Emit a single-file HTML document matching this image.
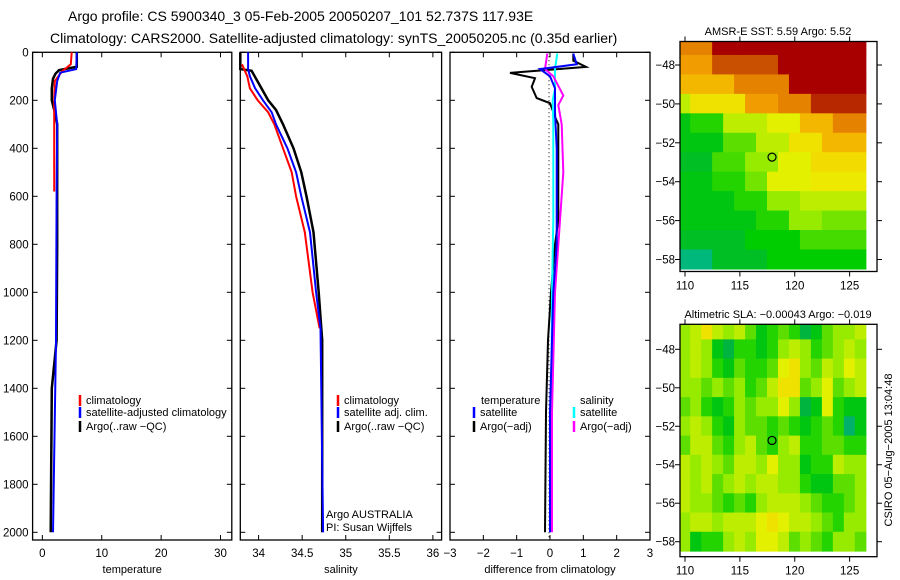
<!DOCTYPE html>
<html><head><meta charset="utf-8">
<style>
body{margin:0;background:#fff;}
svg{display:block;font-family:"Liberation Sans",sans-serif;}
text{fill:#000;}
</style></head>
<body>
<svg id="c" width="900" height="580" viewBox="0 0 900 580">
<text x="68" y="21" font-size="14">Argo profile: CS 5900340_3 05-Feb-2005 20050207_101 52.737S 117.93E</text>
<text x="50" y="43" font-size="14">Climatology: CARS2000. Satellite-adjusted climatology: synTS_20050205.nc (0.35d earlier)</text>
<text x="778" y="35" font-size="11" text-anchor="middle">AMSR-E SST: 5.59 Argo: 5.52</text>
<text x="778" y="318" font-size="11" text-anchor="middle">Altimetric SLA: −0.00043 Argo: −0.019</text>
<text transform="translate(892,450) rotate(-90)" font-size="11" text-anchor="middle">CSIRO 05−Aug−2005 13:04:48</text>
</svg>
<script>
// ---------- data ----------
const depthTicks = [0,200,400,600,800,1000,1200,1400,1600,1800,2000];
const tempTicks = [0,10,20,30];
const salTicks = [34,34.5,35,35.5,36];
const salTickLabels = ["34","34.5","35","35.5","36"];
const diffTicks = [-3,-2,-1,0,1,2,3];
const diffTickLabels = ["−3","−2","−1","0","1","2","3"];

const argoTempDepth = [0,60,74,90,110,150,200,250,300,800,1200,1400,2000];
const argoTemp      = [5.8,5.8,2.8,2.2,1.8,1.6,1.6,2.1,2.5,2.5,2.4,1.6,1.4];
const climTempDepth = [0,50,80,120,200,580];
const climTemp      = [4.95,4.8,3.3,2.1,2.0,2.0];
const satTempDepth  = [0,70,85,120,200,300,600,1200,2000];
const satTemp       = [5.8,5.7,3.0,2.5,2.1,2.5,2.4,2.3,1.8];

const argoSalDepth = [0,70,77,200,240,300,400,500,600,750,1000,1200,2000];
const argoSal      = [33.79,33.79,33.92,34.11,34.2,34.28,34.4,34.49,34.55,34.63,34.69,34.73,34.73];
const satSalDepth  = [0,70,100,150,200,250,300,400,500,600,750,1000,1150,2000];
const satSal       = [33.88,33.88,33.9,33.96,34.05,34.15,34.2,34.33,34.43,34.49,34.59,34.66,34.71,34.74];
const climSalDepth = [50,100,150,200,250,300,400,500,600,750,1000,1150];
const climSal      = [33.81,33.87,33.9,33.99,34.11,34.18,34.28,34.38,34.43,34.53,34.62,34.7];

const dTempArgoDepth = [5,35,61,86,108,144,191,212,269,300,700,800,1000,1200,1500,2000];
const dTempArgo      = [0.7,0.7,1.08,-1.2,-0.45,-0.55,-0.4,0,0.15,0.25,0.25,0.15,0.03,-0.06,-0.12,-0.15];
const dTempSatDepth  = [5,50,70,100,150,250,400,800,1000,1500,2000];
const dTempSat       = [0.7,0.8,-0.3,0,0.15,0.15,0.2,0.2,0.1,0,0];
const dSalArgoDepth  = [5,70,100,180,220,300,500,700,1000,1500,2000];
const dSalArgo       = [-0.08,-0.15,0.1,0.4,0.25,0.35,0.4,0.3,0.15,0.06,0.06];
const dSalSatDepth   = [5,70,150,200,300,700,1000,2000];
const dSalSat        = [0.22,0.15,0.15,0.08,0.1,0.1,0.06,0.02];

const mapLons = [110,111,112,113,114,115,116,117,118,119,120,121,122,123,124,125,126];
const mapLats = [-47,-48,-49,-50,-51,-52,-53,-54,-55,-56,-57,-58];
const latTicks = [-48,-50,-52,-54,-56,-58];
const latTickLabels = ["−48","−50","−52","−54","−56","−58"];
const lonTicks = [110,115,120,125];
const sstGrid = [
[.8,.8,.8,1,1,1,1,1,1,1,1,1,1,1,1,1,1],
[.75,.75,.75,.9,.9,.9,.9,.9,.9,1,1,1,1,1,1,1,1],
[.7,.7,.7,.7,.7,.8,.8,.8,.8,.8,1,1,1,1,1,1,1],
[.5,.6,.6,.6,.6,.6,.75,.75,.75,.8,.8,.8,.95,.95,.95,.95,.95],
[.3,.35,.35,.35,.5,.5,.5,.5,.55,.55,.55,.7,.7,.7,.8,.8,.8],
[.3,.3,.3,.3,.4,.4,.4,.5,.5,.5,.6,.6,.6,.7,.7,.7,.7],
[.28,.28,.28,.38,.38,.38,.45,.45,.45,.55,.55,.55,.62,.62,.62,.62,.62],
[.3,.3,.3,.35,.35,.35,.42,.42,.55,.55,.55,.55,.58,.58,.58,.58,.58],
[.3,.3,.3,.3,.3,.35,.35,.35,.45,.45,.45,.5,.5,.5,.5,.5,.5],
[.3,.3,.3,.3,.3,.3,.3,.35,.35,.35,.45,.45,.45,.42,.42,.42,.42],
[.28,.28,.28,.28,.28,.28,.32,.32,.32,.32,.32,.38,.38,.38,.38,.38,.38],
[.18,.18,.18,.28,.28,.28,.28,.28,.32,.32,.32,.32,.32,.32,.32,.32,.32]];
const slaGrid = [
[.45,.5,.6,.5,.45,.5,.4,.3,.35,.4,.35,.25,.3,.4,.45,.45,.5],
[.45,.5,.45,.3,.25,.35,.35,.3,.35,.45,.5,.45,.35,.4,.45,.5,.45],
[.45,.5,.45,.35,.3,.4,.35,.35,.4,.55,.6,.45,.4,.5,.45,.55,.5],
[.45,.45,.4,.45,.4,.45,.35,.4,.5,.6,.6,.4,.45,.55,.4,.45,.5],
[.4,.45,.35,.3,.35,.45,.4,.45,.45,.55,.45,.25,.3,.55,.35,.3,.3],
[.45,.5,.45,.35,.3,.45,.4,.4,.35,.4,.35,.3,.35,.4,.35,.2,.3],
[.4,.5,.5,.4,.35,.45,.5,.4,.35,.45,.5,.35,.35,.4,.4,.35,.35],
[.5,.45,.5,.45,.4,.5,.5,.45,.55,.45,.45,.3,.35,.35,.5,.45,.45],
[.5,.45,.5,.4,.45,.5,.45,.5,.5,.45,.45,.35,.3,.3,.4,.4,.45],
[.5,.45,.45,.4,.35,.4,.35,.45,.5,.5,.5,.45,.4,.35,.35,.4,.45],
[.45,.5,.5,.45,.5,.5,.5,.55,.6,.55,.5,.5,.45,.4,.35,.45,.45],
[.45,.3,.35,.35,.45,.5,.45,.55,.55,.5,.4,.45,.4,.35,.45,.45,.4]];
const floatLon = 117.93, floatLat = -52.737;

// ---------- helpers ----------
const NS="http://www.w3.org/2000/svg";
const svg=document.getElementById('c');
function mk(tag,attrs,parent){const e=document.createElementNS(NS,tag);for(const k in attrs)e.setAttribute(k,attrs[k]);(parent||svg).appendChild(e);return e;}
const Y0=52.3, YS=0.24;
function yD(d){return Y0+d*YS;}
const panels=[
 {name:'temperature',x0:32.6,x1:231.8,v0:-1.64,v1:31.9},
 {name:'salinity',x0:240.3,x1:441.6,v0:33.79,v1:36.1},
 {name:'difference',x0:450,x1:650,v0:-3,v1:3}];
function sx(p,v){return p.x0+(v-p.v0)/(p.v1-p.v0)*(p.x1-p.x0);}
const YB=540;

function drawPanel(p,ticks,labels,xlabel,showY){
  const g=mk('g',{});
  
  
  const f=mk('rect',{x:p.x0,y:Y0,width:p.x1-p.x0,height:YB-Y0,fill:'none',stroke:'#000','stroke-width':1.3},g);
  
  
  ticks.forEach((t,i)=>{const x=sx(p,t);
    mk('line',{x1:x,x2:x,y1:YB,y2:YB-5,stroke:'#000'},g);
    mk('line',{x1:x,x2:x,y1:Y0,y2:Y0+5,stroke:'#000'},g);
    const tl=mk('text',{x:x,y:YB+17,'font-size':11.5,'text-anchor':'middle'},g);
    tl.textContent=labels[i];
    
    
  });
  depthTicks.forEach(d=>{const y=yD(d);
    mk('line',{x1:p.x0,x2:p.x0+5,y1:y,y2:y,stroke:'#000'},g);
    mk('line',{x1:p.x1,x2:p.x1-5,y1:y,y2:y,stroke:'#000'},g);
    if(showY){const tl=mk('text',{x:p.x0-4,y:y+4,'font-size':11.5,'text-anchor':'end'},g);tl.textContent=d;
      
      }
  });
  const xl=mk('text',{x:(p.x0+p.x1)/2,y:573,'font-size':11,'text-anchor':'middle'},g);
  xl.textContent=xlabel;
  
  
  return g;
}
function line(p,depths,vals,color,w,name){
  const pts=depths.map((d,i)=>sx(p,vals[i]).toFixed(1)+','+yD(d).toFixed(1)).join(' ');
  const l=mk('polyline',{points:pts,fill:'none',stroke:color,'stroke-width':w,'stroke-linejoin':'miter'});
  
  
}
function legend(x,y,color,label,name){
  mk('line',{x1:x,x2:x,y1:y-9,y2:y+2,stroke:color,'stroke-width':2.5});
  const t=mk('text',{x:x+6,y:y,'font-size':11});
  t.textContent=label;
  
  
}

const P1=panels[0],P2=panels[1],P3=panels[2];
drawPanel(P1,tempTicks,tempTicks.map(String),'temperature',true);
drawPanel(P2,salTicks,salTickLabels,'salinity',false);
drawPanel(P3,diffTicks,diffTickLabels,'difference from climatology',false);

const zl=mk('line',{x1:sx(P3,0)-1,x2:sx(P3,0)-1,y1:yD(0),y2:yD(2030),stroke:'#000','stroke-dasharray':'1,3'});



line(P1,argoTempDepth,argoTemp,'#000',2.5,'argo-temperature-line');
line(P1,climTempDepth,climTemp,'#f00',2,'climatology-temperature-line');
line(P1,satTempDepth,satTemp,'#00f',2,'satellite-temperature-line');
line(P2,argoSalDepth,argoSal,'#000',2.5,'argo-salinity-line');
line(P2,climSalDepth,climSal,'#f00',2,'climatology-salinity-line');
line(P2,satSalDepth,satSal,'#00f',2,'satellite-salinity-line');
line(P3,dTempArgoDepth,dTempArgo,'#000',2,'argo-temperature-difference-line');
line(P3,dSalSatDepth,dSalSat,'#0ff',2,'satellite-salinity-difference-line');
line(P3,dSalArgoDepth,dSalArgo,'#f0f',2,'argo-salinity-difference-line');
line(P3,dTempSatDepth,dTempSat,'#00f',2,'satellite-temperature-difference-line');

legend(80,404,'#f00','climatology','legend-climatology');
legend(80,416,'#00f','satellite-adjusted climatology','legend-satellite-adjusted');
legend(80,430,'#000','Argo(..raw −QC)','legend-argo');
legend(338,404,'#f00','climatology','legend-climatology-sal');
legend(338,416,'#00f','satellite adj. clim.','legend-satellite-sal');
legend(338,430,'#000','Argo(..raw −QC)','legend-argo-sal');
const tt=mk('text',{x:481,y:404,'font-size':11});tt.textContent='temperature';


legend(474,416,'#00f','satellite','legend-temp-satellite');
legend(474,430,'#000','Argo(−adj)','legend-temp-argo');
const st=mk('text',{x:580,y:404,'font-size':11});st.textContent='salinity';


legend(574,416,'#0ff','satellite','legend-sal-satellite');
legend(574,430,'#f0f','Argo(−adj)','legend-sal-argo');
const ar=mk('text',{x:326,y:518,'font-size':11});ar.textContent='Argo AUSTRALIA';


const pi=mk('text',{x:326,y:531,'font-size':11});pi.textContent='PI: Susan Wijffels';



// ---------- maps ----------
const stops=[[0.1,[0,208,192]],[0.22,[0,170,90]],[0.32,[0,205,0]],[0.45,[150,235,0]],[0.56,[235,240,0]],[0.66,[245,205,0]],[0.76,[240,150,0]],[0.9,[200,80,0]],[1.0,[168,0,0]]];
function cmap(v){if(v<=stops[0][0])return 'rgb('+stops[0][1]+')';
  for(let i=1;i<stops.length;i++){if(v<=stops[i][0]){const a=stops[i-1],b=stops[i],t=(v-a[0])/(b[0]-a[0]);
    return 'rgb('+a[1].map((c,k)=>Math.round(c+(b[1][k]-c)*t)).join(',')+')';}}
  return 'rgb('+stops[stops.length-1][1]+')';}
function drawMap(name,grid,x0,x1,yTop,yBot,y48,pxLat){
  const lonS=(126-110)/(860.6-685);
  const lx=lon=>685+(lon-110)/lonS;
  const ly=lat=>y48+(-48-lat)*pxLat;
  const g=mk('g',{});
  
  
  const cid=name+'-clip';
  const cp=mk('clipPath',{id:cid},g);mk('rect',{x:x0,y:yTop,width:x1-x0,height:yBot-yTop},cp);
  const cells=mk('g',{'clip-path':'url(#'+cid+')'},g);
  mapLats.forEach((lat,r)=>mapLons.forEach((lon,c)=>{
    const xa=lx(lon-0.5),xb=lx(lon+0.5),ya=ly(lat+0.5),yb=ly(lat-0.5);
    const e=mk('rect',{x:xa-0.3,y:ya-0.3,width:xb-xa+0.6,height:yb-ya+0.6,fill:cmap(grid[r][c])},cells);
    
    
  }));
  const f=mk('rect',{x:x0,y:yTop,width:x1-x0,height:yBot-yTop,fill:'none',stroke:'#000','stroke-width':1.3},g);
  
  
  latTicks.forEach((lat,i)=>{const y=ly(lat);
    mk('line',{x1:x0-5,x2:x0,y1:y,y2:y,stroke:'#000'},g);
    mk('line',{x1:x1,x2:x1+5,y1:y,y2:y,stroke:'#000'},g);
    const t=mk('text',{x:x0-5,y:y+4,'font-size':11.5,'text-anchor':'end'},g);t.textContent=latTickLabels[i];
    
    });
  lonTicks.forEach(lon=>{const x=lx(lon);
    mk('line',{x1:x,x2:x,y1:yBot,y2:yBot+5,stroke:'#000'},g);
    mk('line',{x1:x,x2:x,y1:yTop,y2:yTop-5,stroke:'#000'},g);
    const t=mk('text',{x:x,y:yBot+18,'font-size':11.5,'text-anchor':'middle'},g);t.textContent=lon;
    
    });
  const m=mk('circle',{cx:lx(floatLon),cy:ly(floatLat),r:4,fill:'none',stroke:'#000','stroke-width':1.2},g);
  
  
}
drawMap('sst',sstGrid,680,877,41.5,271.5,65,19.45);
drawMap('sla',slaGrid,680,877,324.3,556.7,349.3,19.24);
</script>
</body></html>
